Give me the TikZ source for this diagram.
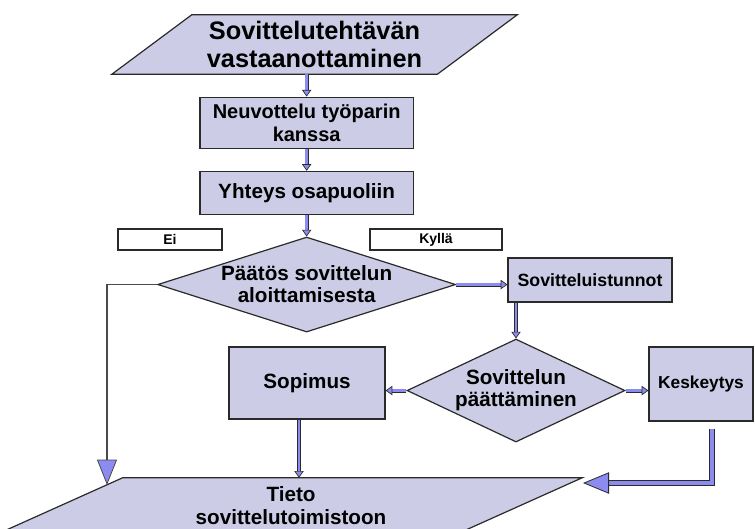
\documentclass[tikz,border=0pt]{standalone}
\usepackage{fontspec}
\setmainfont{Liberation Sans}
\usetikzlibrary{arrows.meta,positioning,calc,shapes.geometric,backgrounds}
\definecolor{lilac}{HTML}{CCCCE6}
\definecolor{arrfill}{HTML}{8C8CF0}
\definecolor{edge}{HTML}{2A2A2A}
\tikzset{
  box/.style={rectangle, draw=edge, line width=0.9pt, fill=lilac, align=center, inner sep=1pt,
              font=\bfseries\fontsize{15.5}{17}\selectfont},
  choice/.style={diamond, draw=edge, line width=0.9pt, fill=lilac, align=center, inner sep=0pt,
                 font=\bfseries\fontsize{15.5}{16.5}\selectfont},
  io/.style={rectangle, align=center, inner sep=0pt},
  iofill/.style={draw=edge, line width=0.9pt, fill=lilac},
  tag/.style={rectangle, draw=edge, line width=0.8pt, fill=white, inner sep=0pt,
              font=\bfseries\fontsize{10.5}{12}\selectfont, minimum height=15.75pt},
  arr/.style={draw=edge, line width=0.5pt, double=arrfill, double distance=2pt,
              -{Triangle[length=5pt,width=7pt,fill=arrfill]}},
  bigarr/.style={draw=edge, line width=0.6pt, double=arrfill, double distance=3pt,
                 -{Triangle[length=19.5pt,width=16pt,fill=arrfill]}},
  linarr/.style={draw=edge!85, line width=1.4pt,
                 -{Triangle[length=19pt,width=15pt,fill=arrfill,line width=0.6pt]}},
}
\begin{document}
\begin{tikzpicture}[x=1pt, y=-1pt]
    \useasboundingbox (0,0) rectangle (566.25,396);
    \node[io, minimum width=243.75pt, minimum height=44.25pt, font=\bfseries\fontsize{19}{21}\selectfont] (recv) at (235.9,33.4)
      {Sovittelutehtävän\\vastaanottaminen};
    \node[box, minimum width=160pt, minimum height=38.25pt, font=\bfseries\fontsize{15}{17}\selectfont] (neuv) at (230,92)
      {Neuvottelu työparin\\kanssa};
    \node[box, minimum width=160pt, minimum height=32.25pt, below=16.5pt of neuv] (yht) {Yhteys osapuoliin};
    \node[tag, minimum width=78pt] (ei) at (127.5,179.6) {Ei};
    \node[tag, minimum width=99pt] (kylla) at (327,179.6) {Kyllä};
    \node[choice, aspect=3.14, minimum width=223.5pt, minimum height=71.25pt] (d1) at (230,213.4)
      {Päätös sovittelun\\aloittamisesta};
    \node[box, minimum width=123pt, minimum height=33pt, font=\bfseries\fontsize{13.3}{15}\selectfont] (ist) at (442.5,210)
      {Sovitteluistunnot};
    \node[choice, aspect=2.12, minimum width=163.5pt, minimum height=77.25pt] (d2) at (387,292.9)
      {Sovittelun\\päättäminen};
    \node[box, minimum width=117pt, minimum height=54pt] (sop) at (230.25,287.25) {Sopimus};
    \node[box, minimum width=78pt, minimum height=55.5pt, font=\bfseries\fontsize{13}{15}\selectfont] (kesk) at (525.75,288)
      {Keskeytys};
    \node[io, minimum width=344.25pt, minimum height=41pt, font=\bfseries\fontsize{15.5}{17}\selectfont] (tieto) at (218.25,379)
      {Tieto\\sovittelutoimistoon};
    % parallelograms behind the two io texts
    \begin{scope}[on background layer]
      \draw[iofill] ([xshift=-30pt]recv.south west) -- ([xshift=30pt]recv.north west)
        -- ([xshift=30pt]recv.north east) -- ([xshift=-30pt]recv.south east) -- cycle;
      \draw[iofill] ([xshift=-46.1pt]tieto.south west) -- ([xshift=46.1pt]tieto.north west)
        -- ([xshift=46.1pt]tieto.north east) -- ([xshift=-46.1pt]tieto.south east) -- cycle;
    \end{scope}
    \coordinate (eiend) at (80.25,363.75);
    \coordinate (keskend) at (437.25,362.25);
    \draw[arr] (recv.south -| neuv) -- (neuv);
    \draw[arr] (neuv) -- (yht);
    \draw[arr] (yht) -- (d1);
    \draw[arr] (d1.east) -- (d1.east -| ist.west);
    \draw[arr] (ist.south -| d2.north) -- (d2.north);
    \draw[arr] (d2.west) -- (d2.west -| sop.east);
    \draw[arr] (d2.east) -- (d2.east -| kesk.west);
    \draw[arr] ([xshift=-6pt]sop.south) -- ([xshift=-6pt]sop.south |- tieto.north);
    \draw[linarr] (d1.west) -| (eiend);
    \draw[bigarr] ($(kesk.south)+(8.25,5.25)$) |- (keskend);
  \end{tikzpicture}
\end{document}
